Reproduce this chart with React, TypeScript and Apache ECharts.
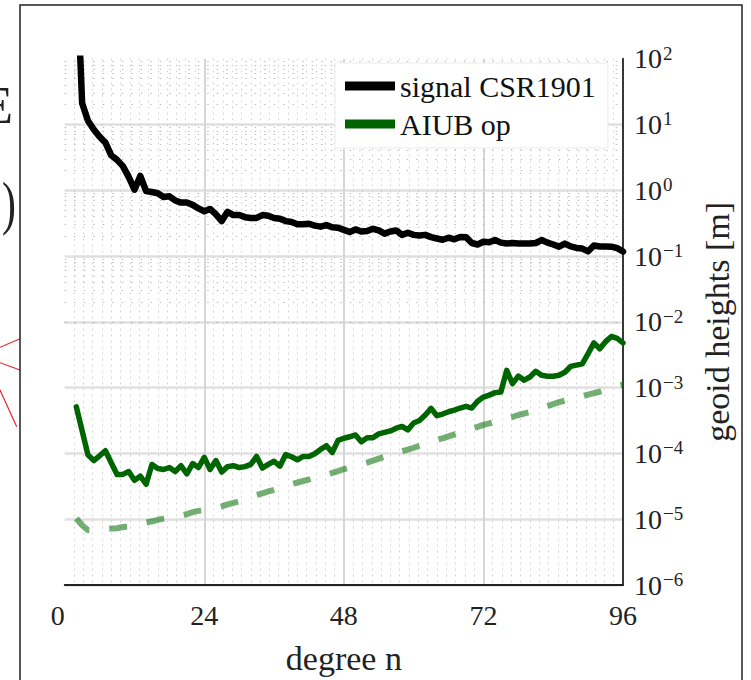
import React, { useEffect, useRef } from 'react';
import * as echarts from 'echarts';

const FONT = '"Liberation Serif", "Times New Roman", serif';

// spherical-harmonic degrees n = 2 .. 96
const degrees = Array.from({ length: 95 }, (_, i) => i + 2);

// geoid heights per degree [m]
const signalCSR1901 = [
  3000, 21, 11.4, 8.4, 6.5, 5.3, 3.4, 2.9, 2.33, 1.6,
  1.02, 1.65, 0.97, 0.94, 0.9, 0.79, 0.81, 0.7, 0.65, 0.65,
  0.6, 0.53, 0.48, 0.52, 0.43, 0.34, 0.47, 0.42, 0.42, 0.39,
  0.38, 0.38, 0.42, 0.41, 0.38, 0.37, 0.34, 0.33, 0.305, 0.305,
  0.31, 0.29, 0.28, 0.295, 0.274, 0.27, 0.25, 0.232, 0.254, 0.236,
  0.24, 0.26, 0.245, 0.219, 0.236, 0.245, 0.21, 0.226, 0.21, 0.205,
  0.21, 0.194, 0.185, 0.177, 0.19, 0.18, 0.195, 0.194, 0.158, 0.15,
  0.165, 0.162, 0.175, 0.16, 0.155, 0.158, 0.155, 0.155, 0.155, 0.158,
  0.175, 0.16, 0.15, 0.139, 0.155, 0.14, 0.133, 0.13, 0.118, 0.145,
  0.14, 0.14, 0.139, 0.132, 0.117,
];

const aiubOp = [
  5.1e-4, 2.2e-4, 9.5e-5, 7.8e-5, 9.2e-5, 1.1e-4, 7.2e-5, 4.8e-5, 4.8e-5, 5.3e-5,
  3.9e-5, 4.5e-5, 3.4e-5, 6.8e-5, 5.9e-5, 5.7e-5, 6.1e-5, 5.3e-5, 6.5e-5, 4.9e-5,
  7.0e-5, 6.1e-5, 8.7e-5, 5.7e-5, 7.8e-5, 5.2e-5, 6.3e-5, 6.5e-5, 6.1e-5, 6.3e-5,
  6.8e-5, 9.0e-5, 6.0e-5, 6.8e-5, 7.6e-5, 6.4e-5, 9.6e-5, 8.9e-5, 8.0e-5, 9.0e-5,
  9.0e-5, 9.9e-5, 1.15e-4, 1.31e-4, 1.03e-4, 1.58e-4, 1.7e-4, 1.79e-4, 1.91e-4, 1.5e-4,
  1.73e-4, 1.73e-4, 1.98e-4, 2.09e-4, 2.2e-4, 2.42e-4, 2.57e-4, 2.28e-4, 2.9e-4, 3.16e-4,
  3.84e-4, 4.84e-4, 3.75e-4, 3.97e-4, 4.3e-4, 4.56e-4, 4.9e-4, 5.2e-4, 4.9e-4, 6.2e-4,
  7.2e-4, 7.7e-4, 8.4e-4, 8.6e-4, 1.83e-3, 1.15e-3, 1.5e-3, 1.3e-3, 1.45e-3, 1.77e-3,
  1.54e-3, 1.49e-3, 1.49e-3, 1.54e-3, 1.71e-3, 2.1e-3, 2.2e-3, 2.3e-3, 3.3e-3, 4.8e-3,
  3.9e-3, 5.0e-3, 6.0e-3, 5.6e-3, 4.8e-3,
];

const referenceCurve = [
  1.03e-5, 8.1e-6, 6.8e-6, 6.8e-6, 6.9e-6, 7.1e-6, 7.2e-6, 7.3e-6, 7.6e-6, 7.7e-6,
  8.0e-6, 8.4e-6, 8.9e-6, 9.3e-6, 9.8e-6, 1.02e-5, 1.05e-5, 1.09e-5, 1.13e-5, 1.19e-5,
  1.28e-5, 1.34e-5, 1.39e-5, 1.44e-5, 1.49e-5, 1.57e-5, 1.68e-5, 1.77e-5, 1.87e-5, 2.0e-5,
  2.15e-5, 2.34e-5, 2.47e-5, 2.64e-5, 2.79e-5, 2.99e-5, 3.2e-5, 3.43e-5, 3.61e-5, 3.81e-5,
  4.01e-5, 4.3e-5, 4.61e-5, 4.77e-5, 5.06e-5, 5.39e-5, 5.78e-5, 6.08e-5, 6.45e-5, 6.87e-5,
  7.24e-5, 7.76e-5, 8.32e-5, 8.91e-5, 9.55e-5, 1.01e-4, 1.08e-4, 1.14e-4, 1.22e-4, 1.31e-4,
  1.4e-4, 1.5e-4, 1.61e-4, 1.69e-4, 1.82e-4, 1.95e-4, 2.09e-4, 2.24e-4, 2.4e-4, 2.53e-4,
  2.71e-4, 2.86e-4, 3.01e-4, 3.17e-4, 3.4e-4, 3.58e-4, 3.84e-4, 4.04e-4, 4.26e-4, 4.56e-4,
  4.89e-4, 5.24e-4, 5.62e-4, 6.03e-4, 6.34e-4, 6.68e-4, 7.05e-4, 7.41e-4, 7.82e-4, 8.24e-4,
  8.67e-4, 9.29e-4, 9.89e-4, 1.05e-3, 1.11e-3,
];

const seriesNames = ['signal CSR1901', 'AIUB op'];
const xAxisName = 'degree n';
const yAxisName = 'geoid heights [m]';
const xTicks = [0, 24, 48, 72, 96];
const yTickExponents = [-6, -5, -4, -3, -2, -1, 0, 1, 2];
const minorMantissas = [2, 3, 4, 5, 6, 7, 8, 9];

const minorRowValues: number[] = [];
yTickExponents.slice(0, -1).forEach((e) => {
  minorMantissas.forEach((m) => minorRowValues.push(m * Math.pow(10, e)));
});

const supers = (e: number) => (e < 0 ? '\u2212' + String(-e) : String(e));

export default function App() {
  const ref = useRef<HTMLDivElement>(null);

  useEffect(() => {
    document.body.style.margin = '0';
    const chart = echarts.init(ref.current!, undefined, { renderer: 'svg' });
    const pairs = (vals: number[]) => degrees.map((n, i) => [n, vals[i]]);

    chart.setOption({
      animation: false,
      backgroundColor: '#fff',
      textStyle: { fontFamily: FONT },
      grid: { left: 64.7, right: 128, top: 58.7, bottom: 89.5 },
      legend: {
        data: seriesNames,
        left: 335,
        top: 63,
        orient: 'vertical',
        padding: [8, 12, 9, 10],
        itemGap: 8,
        itemWidth: 50,
        itemHeight: 9,
        icon: 'rect',
        backgroundColor: '#fff',
        borderColor: '#ececec',
        borderWidth: 1,
        selectedMode: false,
        textStyle: { fontFamily: FONT, fontSize: 30, color: '#111', lineHeight: 30 },
      },
      xAxis: {
        type: 'value',
        min: 0,
        max: 96,
        interval: 24,
        axisLine: { show: true, onZero: false, lineStyle: { color: '#222', width: 1.8 } },
        axisTick: { show: false },
        axisLabel: {
          fontSize: 28,
          fontFamily: FONT,
          color: '#222',
          margin: 16,
          alignMinLabel: 'right',
          formatter: (v: number) => (xTicks.includes(v) ? String(v) : ''),
        },
        splitLine: {
          show: true,
          showMinLine: false,
          showMaxLine: false,
          lineStyle: { color: '#d6d6d6', width: 2 },
        },
        minorTick: { show: false, splitNumber: 15 },
        minorSplitLine: { show: true, lineStyle: { color: '#cdcdcd', width: 1, type: [1.5, 4.5] } },
        name: xAxisName,
        nameLocation: 'middle',
        nameGap: 56,
        nameTextStyle: { fontSize: 34, fontFamily: FONT, color: '#222' },
      },
      yAxis: {
        type: 'log',
        logBase: 10,
        min: 1e-6,
        max: 100,
        position: 'right',
        axisLine: { show: true, onZero: false, lineStyle: { color: '#222', width: 1.8 } },
        axisTick: { show: false },
        axisLabel: {
          margin: 11,
          formatter: (v: number) => {
            const e = Math.round(Math.log10(v));
            return yTickExponents.includes(e) ? `{b|10}{s|${supers(e)}}` : '';
          },
          rich: {
            b: { fontSize: 28, fontFamily: FONT, color: '#222', lineHeight: 30, verticalAlign: 'middle' },
            s: { fontSize: 19, fontFamily: FONT, color: '#222', lineHeight: 19, verticalAlign: 'top', padding: [0, 0, 0, 1] },
          },
        },
        splitLine: {
          show: true,
          showMaxLine: false,
          lineStyle: { color: '#e0e0e0', width: 2.5 },
        },
        name: yAxisName,
        nameLocation: 'middle',
        nameGap: 77,
        nameTextStyle: { fontSize: 34, fontFamily: FONT, color: '#222' },
      },
      series: [
        {
          name: 'reference',
          type: 'line',
          data: pairs(referenceCurve),
          symbol: 'none',
          silent: true,
          z: 2,
          lineStyle: { color: 'rgba(0,110,0,0.55)', width: 6, type: [18, 20], cap: 'butt' },
          itemStyle: { color: 'rgba(0,110,0,0.55)' },
          markLine: {
            silent: true,
            z: 1,
            symbol: ['none', 'none'],
            label: { show: false },
            lineStyle: { color: '#bdbdbd', width: 1, type: [1.5, 8] },
            emphasis: { disabled: true },
            data: minorRowValues.map((v) => ({ yAxis: v })),
          },
        },
        {
          name: seriesNames[1],
          type: 'line',
          data: pairs(aiubOp),
          symbol: 'none',
          silent: true,
          z: 3,
          lineStyle: { color: '#006400', width: 5.5, join: 'round', cap: 'round' },
          itemStyle: { color: '#006400' },
        },
        {
          name: seriesNames[0],
          type: 'line',
          data: pairs(signalCSR1901),
          symbol: 'none',
          silent: true,
          z: 4,
          lineStyle: { color: '#000', width: 6.5, join: 'round', cap: 'round' },
          itemStyle: { color: '#000' },
        },
      ],
      graphic: [
        {
          type: 'rect',
          silent: true,
          z: 100,
          shape: { x: 20, y: 5, width: 722, height: 700 },
          style: { fill: 'none', stroke: '#222', lineWidth: 1.5 },
        },
        {
          type: 'text',
          silent: true,
          x: 13,
          y: 105,
          style: { text: 'E', fontSize: 52, fontFamily: FONT, align: 'right', verticalAlign: 'middle', fill: '#222' },
        },
        {
          type: 'text',
          silent: true,
          x: 9,
          y: 203,
          scaleX: 0.7,
          style: { text: ')', fontSize: 60, fontFamily: FONT, align: 'center', verticalAlign: 'middle', fill: '#222' },
        },
        { type: 'line', silent: true, shape: { x1: 0, y1: 347.3, x2: 20, y2: 338.7 }, style: { stroke: '#e8282b', lineWidth: 1.2 } },
        { type: 'line', silent: true, shape: { x1: 0, y1: 362.7, x2: 20, y2: 370 }, style: { stroke: '#e8282b', lineWidth: 1.2 } },
        { type: 'line', silent: true, shape: { x1: 0, y1: 390, x2: 16.7, y2: 426.7 }, style: { stroke: '#e8282b', lineWidth: 1.2 } },
      ],
    });

    return () => chart.dispose();
  }, []);

  return <div ref={ref} style={{ width: 751, height: 680 }} />;
}
